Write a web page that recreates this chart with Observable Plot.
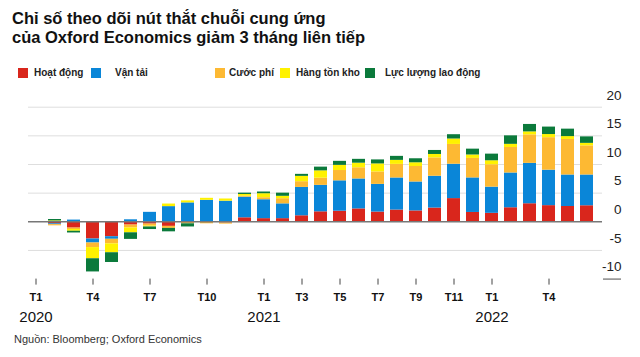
<!DOCTYPE html>
<html><head><meta charset="utf-8">
<script src="https://cdn.jsdelivr.net/npm/d3@7"></script>
<script src="https://cdn.jsdelivr.net/npm/@observablehq/plot@0.6"></script>
<style>
body{margin:0;background:#fff;font-family:"Liberation Sans",Arial,sans-serif;width:640px;height:357px;overflow:hidden;position:relative}
#title{position:absolute;left:12px;top:9px;font-weight:bold;font-size:16.5px;line-height:19px;color:#111}
#legend{position:absolute;top:66px;left:0;height:13px;font-size:10px;font-weight:bold;color:#222}
.item{position:absolute;top:0;display:flex;align-items:center;white-space:nowrap;height:13px}
.sw{width:10px;height:10px;flex:none}
.item:nth-child(1){left:18px}.item:nth-child(1) .sw{margin-right:6px}
.item:nth-child(2){left:91px}.item:nth-child(2) .sw{margin-right:14px}
.item:nth-child(3){left:215px}.item:nth-child(3) .sw{margin-right:4px}
.item:nth-child(4){left:280px}.item:nth-child(4) .sw{margin-right:6px}
.item:nth-child(5){left:365px}.item:nth-child(5) .sw{margin-right:10px}
#chart{position:absolute;top:85px;left:0}
#source{position:absolute;left:14px;top:333px;font-size:11px;color:#333}
</style></head>
<body>
<div id="title">Chỉ số theo dõi nút thắt chuỗi cung ứng<br>của Oxford Economics giảm 3 tháng liên tiếp</div>
<div id="legend"></div>
<div id="chart"></div>
<div id="source">Nguồn: Bloomberg; Oxford Economics</div>
<script>
// ---- data ----
const months = ["2020-01","2020-02","2020-03","2020-04","2020-05","2020-06","2020-07","2020-08","2020-09","2020-10","2020-11","2020-12",
  "2021-01","2021-02","2021-03","2021-04","2021-05","2021-06","2021-07","2021-08","2021-09","2021-10","2021-11","2021-12",
  "2022-01","2022-02","2022-03","2022-04","2022-05","2022-06"];
const seriesNames = ["Hoạt động","Vận tải","Cước phí","Hàng tồn kho","Lực lượng lao động"];
const seriesColors = ["#d9261c","#0a86d8","#fdb933","#fff200","#0b7a3b"];
const hoatDong  = [0,-0.35,-1.1,-3.0,-2.6,-0.57,-0.4,-0.8,-0.1,0,-0.2,0.7, 0.55,0.55,1.05,1.74,1.85,2.25,1.7,2.05,1.9,2.4,4.05,1.63, 1.48,2.45,3.15,2.82,2.67,2.8];
const vanTai    = [0,-0.15,0.3,-0.7,-0.45,0.35,1.65,2.65,3.3,3.75,3.6,3.6, 3.3,2.58,4.95,4.62,5.3,5.23,4.83,5.6,5.05,5.55,6.0,6.03, 4.57,6.07,7.05,6.19,5.5,5.37];
const cuocPhi   = [0,-0.2,-0.25,-0.8,-0.8,-0.5,-0.35,-0.35,-0.25,-0.35,-0.2,0.17, 0.35,0.9,1.0,1.25,1.8,1.95,2.17,2.37,2.7,3.2,3.45,3.4, 3.9,4.45,4.97,5.67,6.2,5.08];
const hangTonKho= [0,0.15,-0.3,-1.95,-1.55,-0.85,-0.15,0.45,0.35,0.35,0.38,0.3, 0.7,0.42,0.93,1.28,0.9,0.8,1.4,0.7,0.65,0.6,0.95,0.6, 0.7,0.55,0.52,0.55,0.5,0.44];
const laoDong   = [0,0.25,-0.3,-2.3,-1.7,-1.15,-0.45,-0.6,-0.55,0,0,0.23, 0.3,0.55,0.35,0.65,0.7,0.67,0.7,0.7,0.7,0.7,0.75,1.02, 1.16,1.48,1.3,1.3,1.3,1.13];
const yTicks = [-10,-5,0,5,10,15,20];
const tickMonths = ["2020-01","2020-04","2020-07","2020-10","2021-01","2021-03","2021-05","2021-07","2021-09","2021-11","2022-01","2022-04"];
const tickLabels = ["T1","T4","T7","T10","T1","T3","T5","T7","T9","T11","T1","T4"];
const yearMonths = ["2020-01","2021-01","2022-01"];
const yearLabels = ["2020","2021","2022"];

const seriesValues = [hoatDong, vanTai, cuocPhi, hangTonKho, laoDong];
const table = [];
months.forEach((m, i) => seriesNames.forEach((s, j) => table.push({month: m, series: s, value: seriesValues[j][i]})));

// legend
const leg = document.getElementById("legend");
seriesNames.forEach((s, j) => {
  const it = document.createElement("div"); it.className = "item";
  it.innerHTML = `<span class="sw" style="background:${seriesColors[j]}"></span><span>${s}</span>`;
  leg.appendChild(it);
});

const chart = Plot.plot({
  width: 640, height: 245,
  marginLeft: 28, marginRight: 38, marginTop: 21.7, marginBottom: 51.4,
  x: {type: "band", domain: months, paddingInner: 0.32, paddingOuter: 0, align: 0.06, label: null},
  y: {domain: [-10, 20], label: null},
  color: {domain: seriesNames, range: seriesColors},
  style: {fontFamily: '"Liberation Sans", Arial, sans-serif', background: "white", overflow: "visible", color: "#111"},
  marks: [
    Plot.ruleY([-5, 5, 10, 15, 20], {stroke: "#dedede", strokeWidth: 1}),
    Plot.barY(table, {x: "month", y: "value", fill: "series", order: seriesNames}),
    Plot.ruleY([0], {stroke: "#777", strokeWidth: 1.5}),
    Plot.axisY({anchor: "right", ticks: yTicks, tickFormat: d => String(d), tickSize: 0, tickPadding: 19, textAnchor: "end", dy: -12, fontSize: 13.5, fill: "#222", label: null}),
    Plot.axisY({anchor: "right", ticks: [-10], tickSize: 18, text: null, stroke: "#888", strokeWidth: 1.5, label: null}),
    Plot.axisX({ticks: tickMonths, tickFormat: d => tickLabels[tickMonths.indexOf(d)], tickSize: 6, tickPadding: 8, fontSize: 11, fontWeight: "bold", stroke: "#444", fill: "#111", label: null}),
    Plot.axisX({ticks: yearMonths, tickFormat: d => yearLabels[yearMonths.indexOf(d)], tickSize: 0, tickPadding: 32, fontSize: 15, fill: "#111", label: null})
  ]
});
document.getElementById("chart").appendChild(chart);
</script>
</body></html>
